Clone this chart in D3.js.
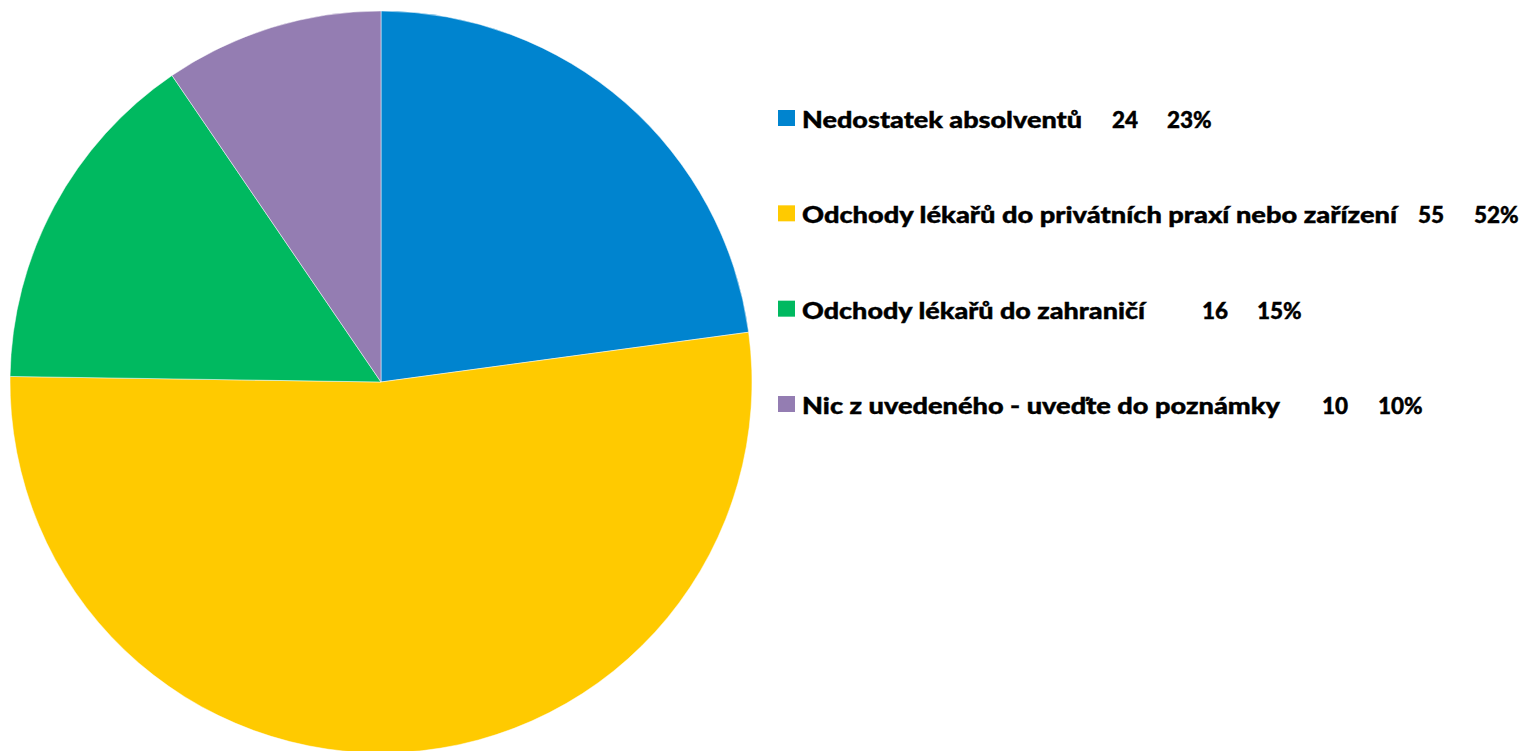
<!DOCTYPE html>
<html>
<head>
<meta charset="utf-8">
<script src="https://cdn.jsdelivr.net/npm/d3@7"></script>
<style>
  body { margin: 0; background: #ffffff; }
  svg { display: block; }
</style>
</head>
<body>
<svg id="chart"></svg>
<script>
// data
var categories = [
    'Nedostatek absolventů',
    'Odchody lékařů do privátních praxí nebo zařízení',
    'Odchody lékařů do zahraničí',
    'Nic z uvedeného - uveďte do poznámky'
];
var counts = [24, 55, 16, 10];
var percentLabels = ['23%', '52%', '15%', '10%'];

var colors = ['#0084cf', '#ffca00', '#00b960', '#947db2'];

// legend layout (label widths and column starts, px)
var labelWidths = [280, 595, 343, 478];
var countX = [1112, 1418, 1202, 1322];
var pctX = [1167, 1474, 1257, 1378];

var width = 1531;
var height = 751;

var svg = d3.select('#chart')
    .attr('width', width)
    .attr('height', height);

// set the pie geometry
var radius = 371;
var cx = 381;
var cy = 382;

var data = categories.map(function (name, i) {
    return { name: name, value: counts[i], pct: percentLabels[i] };
});

var pie = d3.pie()
    .sort(null)
    .value(function (d) { return d.value; });

var arc = d3.arc()
    .innerRadius(0)
    .outerRadius(radius);

var color = d3.scaleOrdinal()
    .domain(categories)
    .range(colors);

svg.append('g')
    .attr('class', 'pie')
    .attr('transform', 'translate(' + cx + ',' + cy + ')')
    .selectAll('path')
    .data(pie(data))
    .enter().append('path')
    .attr('d', arc)
    .attr('fill', function (d) { return color(d.data.name); })
    .attr('stroke', '#ffffff')
    .attr('stroke-width', 0.5);

// legend
var legendY = d3.scalePoint()
    .domain(categories)
    .range([128, 414]);

var legend = svg.append('g')
    .attr('class', 'legend')
    .style('font-family', 'Lato, "Open Sans", sans-serif')
    .style('font-weight', '900')
    .style('font-size', '22.5px')
    .attr('fill', '#000000')
    .attr('stroke', '#000000')
    .attr('stroke-width', 0.4);

var rows = legend.selectAll('.row')
    .data(data)
    .enter().append('g')
    .attr('class', 'row')
    .attr('transform', function (d) { return 'translate(0,' + legendY(d.name) + ')'; });

rows.append('rect')
    .attr('x', 778)
    .attr('y', -18)
    .attr('width', 17)
    .attr('height', 16)
    .attr('stroke', 'none')
    .attr('fill', function (d) { return color(d.name); });

rows.append('text')
    .attr('x', 802)
    .attr('y', 0)
    .attr('textLength', function (d, i) { return labelWidths[i]; })
    .attr('lengthAdjust', 'spacingAndGlyphs')
    .text(function (d) { return d.name; });

rows.append('text')
    .attr('x', function (d, i) { return countX[i]; })
    .attr('y', 0)
    .text(function (d) { return d.value; });

rows.append('text')
    .attr('x', function (d, i) { return pctX[i]; })
    .attr('y', 0)
    .text(function (d) { return d.pct; });
</script>
</body>
</html>
